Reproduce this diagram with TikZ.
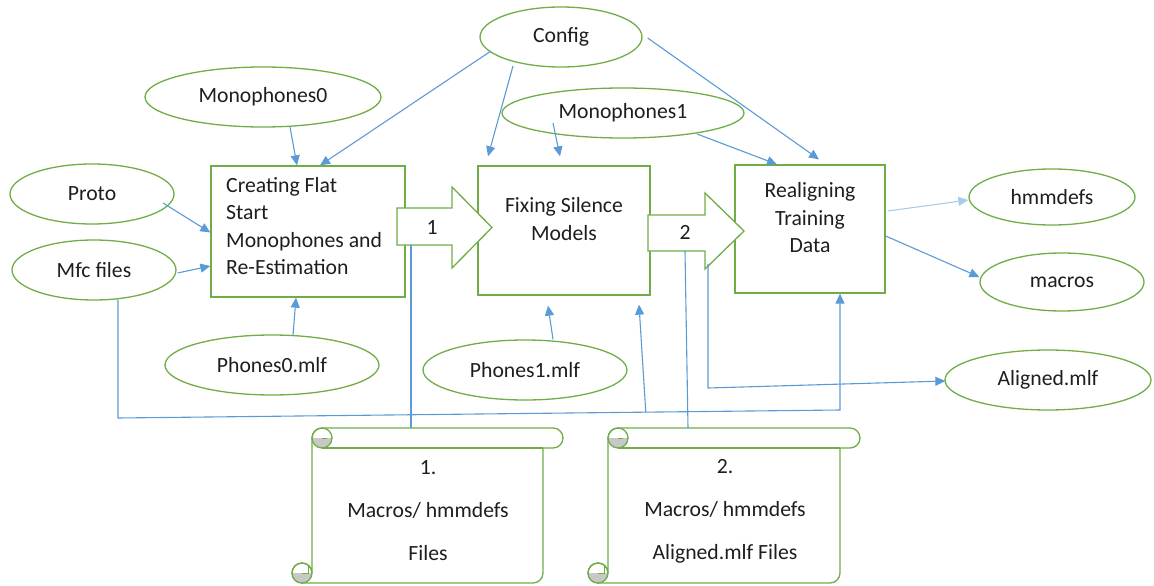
\documentclass[tikz,border=0pt]{standalone}
\usepackage{fontspec}
\setmainfont{Carlito}
\usetikzlibrary{shapes.geometric,arrows.meta,calc}

\definecolor{lgreen}{HTML}{70AD47}
\definecolor{lblue}{HTML}{5B9BD5}
\definecolor{pblue}{HTML}{A9CCEB}
\definecolor{curl}{HTML}{C8C8C8}
\definecolor{ink}{HTML}{1E1E1E}

\newcommand{\lbl}{\fontsize{21.7}{27.5}\selectfont}
\newcommand{\scrolltxt}{\fontsize{21.7}{43}\selectfont}

% horizontal scroll: #1 = left edge of the sheet, #2 = right edge of the sheet
\newcommand{\drawscroll}[2]{%
  \draw[scrollline, fill=white]
    ({#1+10},428) -- ({#2+10},428) arc[start angle=-90,end angle=90,radius=10]
    -- ({#2},448) -- ({#2},573) arc[start angle=0,end angle=90,radius=10]
    -- ({#1-10},583) arc[start angle=90,end angle=270,radius=10]
    arc[start angle=270,end angle=360,radius=10]
    -- ({#1},438) arc[start angle=180,end angle=270,radius=10] -- cycle;
  \fill[curl] ({#1},438) arc[start angle=180,end angle=0,radius=10] -- cycle;
  \fill[curl] ({#1-20},573) arc[start angle=180,end angle=0,radius=10] -- cycle;
  \draw[scrollline] ({#1+10},438) circle[radius=10];
  \draw[scrollline] ({#1-10},573) circle[radius=10];
  \draw[scrollline] ({#1+10},448) -- ({#2},448);
  \draw[scrollline, line width=0.8pt] ({#1+10},438) -- ({#1+15},438);
  \draw[scrollline, line width=0.8pt] ({#1-10},573) -- ({#1-4},573) -- ({#1-4},566);
}

\begin{document}
\begin{tikzpicture}[x=1pt,y=-1pt,
  ell/.style={ellipse, draw=lgreen, line width=1.3pt, inner sep=0pt, text=ink, font=\lbl},
  procbox/.style={draw=lgreen, line width=1.3pt, inner sep=0pt},
  txt/.style={inner sep=0pt, text=ink, font=\lbl},
  blockarrow/.style={draw=lgreen, line width=1.3pt, fill=white, line join=miter},
  flow/.style={draw=lblue, line width=1.1pt, -{Triangle[length=10pt,width=9pt]}},
  softflow/.style={draw=pblue, line width=1.1pt, -{Triangle[length=10pt,width=9pt]}},
  wire/.style={draw=lblue, line width=1.1pt},
  scrollline/.style={draw=lgreen, line width=1.3pt},
]
\useasboundingbox (0,0) rectangle (1154,586);

% input files
\node[ell, minimum width=162pt, minimum height=60pt] (config) at (561,37) {Config};
\node[ell, minimum width=236pt, minimum height=60pt] (mono0) at (263,97) {Monophones0};
\node[ell, minimum width=242pt, minimum height=50pt] (mono1) at (623,113) {Monophones1};
\node[ell, minimum width=164pt, minimum height=60pt] (proto) at (92,194) {Proto};
\node[ell, minimum width=164pt, minimum height=60pt] (mfc) at (94,270) {Mfc files};
\node[ell, minimum width=214pt, minimum height=60pt] (ph0) at (272,365) {Phones0.mlf};
\node[ell, minimum width=204pt, minimum height=60pt] (ph1) at (525,370) {Phones1.mlf};

% output files
\node[ell, minimum width=166pt, minimum height=56pt] (hmm) at (1052,197) {hmmdefs};
\node[ell, minimum width=164pt, minimum height=58pt] (macros) at (1062,282) {macros};
\node[ell, minimum width=206pt, minimum height=60pt] (aligned) at (1048,380) {Aligned.mlf};

% processing steps
\node[procbox, minimum width=194pt, minimum height=131pt] (b1) at (308,231.5) {};
\node[txt, align=left, anchor=west] (b1t) at (226,226) {Creating Flat\\Start\\Monophones and\\Re-Estimation};
\node[procbox, minimum width=172pt, minimum height=129pt] (b2) at (564,230.5) {};
\node[txt, align=center] (b2t) at (564,219) {Fixing Silence\\Models};
\node[procbox, minimum width=150pt, minimum height=128pt] (b3) at (810,229) {};
\node[txt, align=center] (b3t) at (810,218) {Realigning\\Training\\Data};

% block arrows between the steps
\draw[blockarrow] (397,208) -- (452,208) -- (452,187) -- (492,227.5) -- (452,268) -- (452,245) -- (397,245) -- cycle;
\node[txt] (a1) at (432,228) {1};
\draw[blockarrow] (648,215) -- (705,215) -- (705,193) -- (744,231) -- (705,269) -- (705,251) -- (648,251) -- cycle;
\node[txt] (a2) at (685,232) {2};
\coordinate (a1foot) at (411,245);
\coordinate (a2foot) at (685,251);
\coordinate (a2tap) at (708,264);
\coordinate (alnk) at (708,388);

% stored model files
\drawscroll{312}{543}
\node[minimum width=231pt, minimum height=155pt, inner sep=0pt] (s1) at (427.5,505.5) {};
\node[txt, align=center, font=\scrolltxt] (s1t) at (428,511) {1.\\Macros/ hmmdefs\\Files};
\drawscroll{608}{840}
\node[minimum width=232pt, minimum height=155pt, inner sep=0pt] (s2) at (724,505.5) {};
\node[txt, align=center, font=\scrolltxt] (s2t) at (725,511) {2.\\Macros/ hmmdefs\\Aligned.mlf Files};

% inputs to step 1
\draw[flow] ($(mono0.center)+(27,30)$) -- ($(b1.north)+(-11,0)$);
\draw[flow] ($(config.center)+(-70,14)$) -- ($(b1.north)+(12,0)$);
\draw[flow] ($(proto.center)+(71,9)$) -- ($(b1.west)+(0,1)$);
\draw[flow] ($(mfc.east)+(1,3)$) -- ($(b1.west)+(0,34.5)$);
\draw[flow] ($(ph0.north)+(21,1)$) -- ($(b1.south)+(-12,0)$);

% inputs to step 2
\draw[flow] ($(config.center)+(-48,29)$) -- ($(b2.north)+(-76,-9)$);
\draw[flow] ($(mono1.center)+(-70,10)$) -- ($(b2.north)+(-4,-9)$);
\draw[flow] ($(ph1.north)+(28,0)$) -- ($(b2.south)+(-16,10)$);

% inputs to step 3
\draw[flow] ($(config.east)+(5,1)$) -- ($(b3.north)+(9,-5)$);
\draw[flow] ($(mono1.center)+(74,21)$) -- ($(b3.north)+(-33,0)$);

% outputs of step 3
\draw[softflow] ($(b3.east)+(2,-18)$) -- ($(hmm.west)+(0,3)$);
\draw[flow] ($(b3.east)+(0,7)$) -- ($(macros.west)+(0,-5)$);
\draw[flow] (a2tap) -- (alnk) -- ($(aligned.west)+(1,1)$);

% feature files shared by steps 2 and 3
\coordinate (busL) at (118,418);
\coordinate (busR) at (840,410);
\coordinate (busM) at ($(busL)!0.731!(busR)$);
\draw[flow] ($(mfc.south)+(24,-1)$) -- (busL) -- (busR) -- (b3.south -| busR);
\draw[flow] (busM) -- ($(b2.south)+(75,9)$);

% model files taken from the block arrows
\draw[wire] (s1.north -| a1foot) -- (a1foot);
\draw[wire] ($(s2.north)+(-36,0)$) -- (a2foot);
\end{tikzpicture}
\end{document}
